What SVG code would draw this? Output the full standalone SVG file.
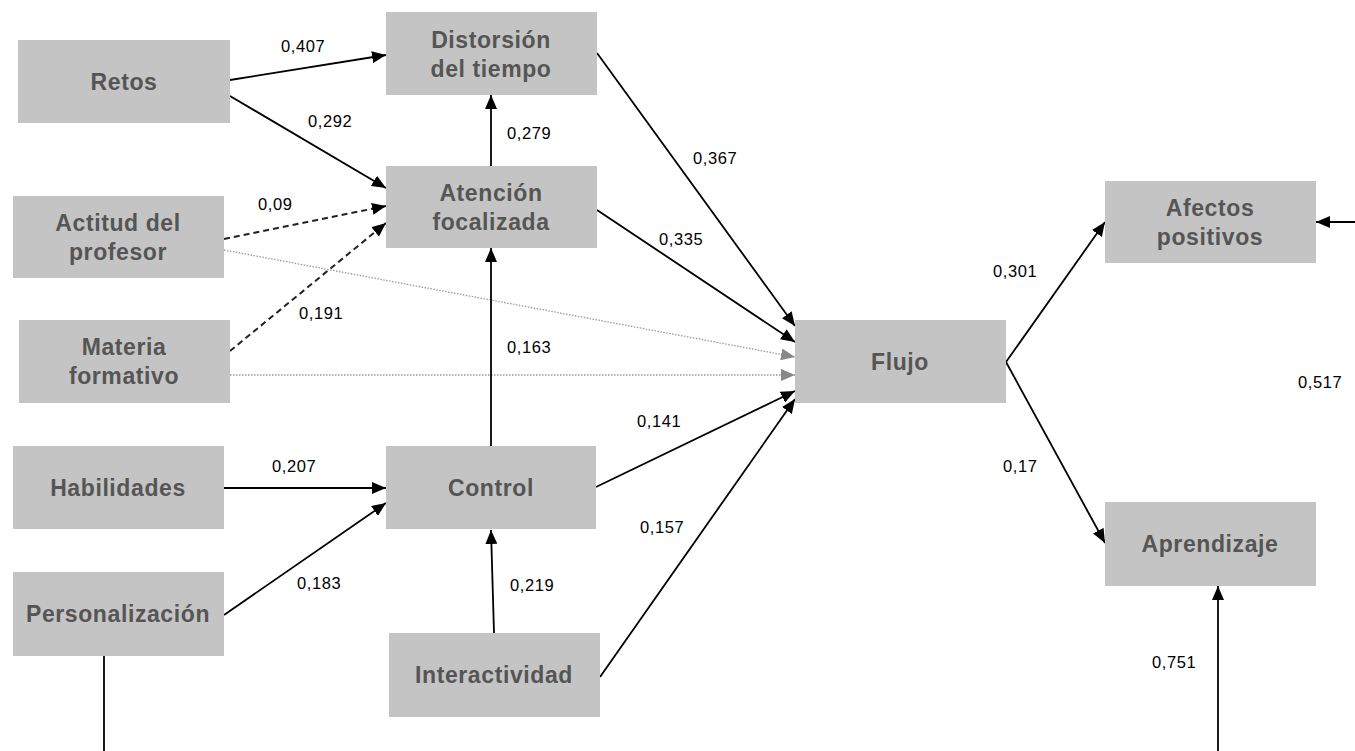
<svg xmlns="http://www.w3.org/2000/svg" width="1355" height="751" viewBox="0 0 1355 751">
  <style>
    .box { fill: #c4c4c4; }
    .name { font-family: "Liberation Sans", Arial, sans-serif; font-weight: bold; font-size: 23px; fill: #555555; text-anchor: middle; letter-spacing: 0.6px; }
    .coef { font-family: "Liberation Sans", Arial, sans-serif; font-size: 16.5px; fill: #000000; letter-spacing: 0.6px; }
    .solid { stroke: #000; stroke-width: 1.8; fill: none; }
    .dash { stroke: #222; stroke-width: 2; fill: none; stroke-dasharray: 6 4; }
    .dot { stroke: #9a9a9a; stroke-width: 1.3; fill: none; stroke-dasharray: 1.5 1.5; }
  </style>
  <defs>
    <marker id="arrow" markerUnits="userSpaceOnUse" markerWidth="14" markerHeight="12" refX="14" refY="6" orient="auto">
      <path d="M0,0 L14,6 L0,12 z" fill="#000"/>
    </marker>
    <marker id="arrowGray" markerUnits="userSpaceOnUse" markerWidth="14" markerHeight="12" refX="14" refY="6" orient="auto">
      <path d="M0,0 L14,6 L0,12 z" fill="#888"/>
    </marker>
  </defs>

  <rect width="1355" height="751" fill="#ffffff"/>

  <!-- paths between constructs -->
  <g id="connectors">
    <line class="solid" x1="230" y1="80" x2="386" y2="55" marker-end="url(#arrow)"/>
    <line class="solid" x1="230" y1="96" x2="386" y2="188" marker-end="url(#arrow)"/>
    <line class="solid" x1="491" y1="166" x2="491" y2="95" marker-end="url(#arrow)"/>
    <line class="dash" x1="224" y1="239" x2="386" y2="206" marker-end="url(#arrow)"/>
    <line class="dash" x1="230" y1="351" x2="386" y2="223" marker-end="url(#arrow)"/>
    <line class="dot" x1="224" y1="250" x2="795" y2="357" marker-end="url(#arrowGray)"/>
    <line class="dot" x1="230" y1="375" x2="795" y2="375" marker-end="url(#arrowGray)"/>
    <line class="solid" x1="491" y1="446" x2="491" y2="248" marker-end="url(#arrow)"/>
    <line class="solid" x1="224" y1="488" x2="386" y2="488" marker-end="url(#arrow)"/>
    <line class="solid" x1="224" y1="615" x2="386" y2="503" marker-end="url(#arrow)"/>
    <line class="solid" x1="494" y1="633" x2="491" y2="530" marker-end="url(#arrow)"/>
    <line class="solid" x1="597" y1="53" x2="795" y2="326" marker-end="url(#arrow)"/>
    <line class="solid" x1="597" y1="210" x2="795" y2="342" marker-end="url(#arrow)"/>
    <line class="solid" x1="596" y1="487" x2="795" y2="391" marker-end="url(#arrow)"/>
    <line class="solid" x1="600" y1="677" x2="795" y2="399" marker-end="url(#arrow)"/>
    <line class="solid" x1="1006" y1="362" x2="1105" y2="222" marker-end="url(#arrow)"/>
    <line class="solid" x1="1006" y1="362" x2="1105" y2="543" marker-end="url(#arrow)"/>
    <line class="solid" x1="1355" y1="222" x2="1316" y2="222" marker-end="url(#arrow)"/>
    <line class="solid" x1="1218" y1="751" x2="1218" y2="586" marker-end="url(#arrow)"/>
    <line class="solid" x1="104" y1="656" x2="104" y2="751"/>
  </g>

  <!-- path coefficients -->
  <g id="coefficients">
    <text class="coef" x="281" y="52">0,407</text>
    <text class="coef" x="308" y="127">0,292</text>
    <text class="coef" x="507" y="139">0,279</text>
    <text class="coef" x="258" y="210">0,09</text>
    <text class="coef" x="299" y="319">0,191</text>
    <text class="coef" x="507" y="353">0,163</text>
    <text class="coef" x="272" y="472">0,207</text>
    <text class="coef" x="297" y="589">0,183</text>
    <text class="coef" x="510" y="591">0,219</text>
    <text class="coef" x="693" y="164">0,367</text>
    <text class="coef" x="659" y="245">0,335</text>
    <text class="coef" x="637" y="427">0,141</text>
    <text class="coef" x="640" y="533">0,157</text>
    <text class="coef" x="993" y="277">0,301</text>
    <text class="coef" x="1298" y="388">0,517</text>
    <text class="coef" x="1003" y="472">0,17</text>
    <text class="coef" x="1152" y="668">0,751</text>
  </g>

  <g id="retos">
    <rect class="box" x="18" y="40" width="212" height="83"/>
    <text class="name" x="124" y="90">Retos</text>
  </g>
  <g id="distorsion">
    <rect class="box" x="386" y="12" width="211" height="83"/>
    <text class="name" x="491" y="48">Distorsión</text>
    <text class="name" x="491" y="77">del tiempo</text>
  </g>
  <g id="atencion">
    <rect class="box" x="386" y="166" width="211" height="82"/>
    <text class="name" x="491" y="201">Atención</text>
    <text class="name" x="491" y="230">focalizada</text>
  </g>
  <g id="actitud">
    <rect class="box" x="13" y="196" width="211" height="82"/>
    <text class="name" x="118" y="231">Actitud del</text>
    <text class="name" x="118" y="260">profesor</text>
  </g>
  <g id="materia">
    <rect class="box" x="19" y="320" width="211" height="83"/>
    <text class="name" x="124" y="355">Materia</text>
    <text class="name" x="124" y="384">formativo</text>
  </g>
  <g id="habilidades">
    <rect class="box" x="13" y="446" width="211" height="83"/>
    <text class="name" x="118" y="496">Habilidades</text>
  </g>
  <g id="control">
    <rect class="box" x="386" y="446" width="210" height="83"/>
    <text class="name" x="491" y="496">Control</text>
  </g>
  <g id="personalizacion">
    <rect class="box" x="13" y="572" width="211" height="84"/>
    <text class="name" x="118" y="622">Personalización</text>
  </g>
  <g id="interactividad">
    <rect class="box" x="389" y="633" width="211" height="84"/>
    <text class="name" x="494" y="683">Interactividad</text>
  </g>
  <g id="flujo">
    <rect class="box" x="795" y="320" width="211" height="83"/>
    <text class="name" x="900" y="370">Flujo</text>
  </g>
  <g id="afectos">
    <rect class="box" x="1105" y="181" width="211" height="82"/>
    <text class="name" x="1210" y="216">Afectos</text>
    <text class="name" x="1210" y="245">positivos</text>
  </g>
  <g id="aprendizaje">
    <rect class="box" x="1105" y="502" width="211" height="84"/>
    <text class="name" x="1210" y="552">Aprendizaje</text>
  </g>
</svg>
